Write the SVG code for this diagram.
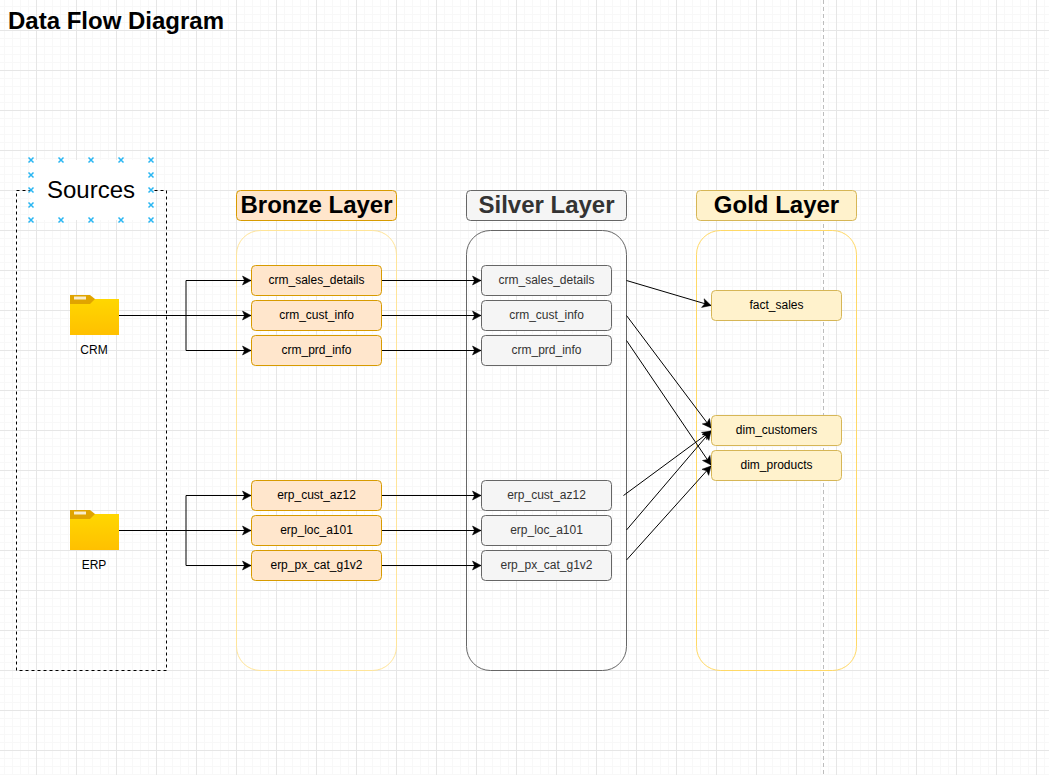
<svg xmlns="http://www.w3.org/2000/svg" width="1049" height="775" viewBox="0 0 1049 775">
<style>
text{font-family:"Liberation Sans",Arial,sans-serif;text-anchor:middle;fill:#000}
.n{font-size:12px}
.t{font-size:24px;font-weight:bold}
.nb{fill:#ffe6cc;stroke:#d79b00}
.ns{fill:#f5f5f5;stroke:#666}
.ng{fill:#fff2cc;stroke:#d6b656}
.c{fill:none;stroke:#000;stroke-width:1;marker-end:url(#a)}
.x{fill:none;stroke:#29b6f2;stroke-width:1.5}
</style>
<defs>
<pattern id="g" patternUnits="userSpaceOnUse" x="-4" y="-10" width="40" height="40">
<path d="M8.5 0V40M16.5 0V40M24.5 0V40M32.5 0V40M0 8.5H40M0 16.5H40M0 24.5H40M0 32.5H40" stroke="#f8f8f8" fill="none"/>
<path d="M0.5 0V40M0 0.5H40" stroke="#e6e6e6" stroke-width="1" fill="none"/>
</pattern>
<linearGradient id="f" x1="0" y1="0" x2="0" y2="1"><stop offset="0" stop-color="#ffd700"/><stop offset="1" stop-color="#ffc000"/></linearGradient>
<marker id="a" markerUnits="userSpaceOnUse" markerWidth="12" markerHeight="12" refX="9.5" refY="6" orient="auto"><path d="M1 1.5L9.5 6L1 10.5L3 6Z" fill="#000" stroke="#000" stroke-width=".5"/></marker>
<symbol id="folder" overflow="visible"><path d="M0 4H49V40H0Z" fill="url(#f)"/><path d="M0 0H20L25 4L20 9H0Z" fill="#e0a400"/><rect x="4" y="1.5" width="12" height="3" fill="#fff" fill-opacity=".8"/></symbol>
<path id="xm" d="M-2.5 -2.5L2.5 2.5M-2.5 2.5L2.5 -2.5"/>
</defs>
<rect width="1049" height="775" fill="#fff"/>
<rect width="1049" height="775" fill="url(#g)"/>
<path d="M823.5 0V775" stroke="#bdbdbd" stroke-dasharray="4 3" fill="none"/>
<text x="116" y="29" class="t">Data Flow Diagram</text>

<g id="sources">
<rect x="16.5" y="190.5" width="150" height="480" fill="none" stroke="#000" stroke-dasharray="3 3"/>
<rect x="31" y="160" width="120" height="60" fill="#fff"/>
<g class="x">
<use href="#xm" x="31" y="160"/><use href="#xm" x="61" y="160"/><use href="#xm" x="91" y="160"/><use href="#xm" x="121" y="160"/><use href="#xm" x="151" y="160"/>
<use href="#xm" x="31" y="175"/><use href="#xm" x="151" y="175"/>
<use href="#xm" x="31" y="190"/><use href="#xm" x="151" y="190"/>
<use href="#xm" x="31" y="205"/><use href="#xm" x="151" y="205"/>
<use href="#xm" x="31" y="220"/><use href="#xm" x="61" y="220"/><use href="#xm" x="91" y="220"/><use href="#xm" x="121" y="220"/><use href="#xm" x="151" y="220"/>
</g>
<text x="91" y="198" font-size="24">Sources</text>
</g>

<g id="layer-bronze"><rect x="236.5" y="230.5" width="160" height="440" rx="24" fill="none" stroke="#ffe599"/><rect x="236.5" y="190.5" width="160" height="30" rx="4" class="nb"/><text x="316.5" y="213" class="t">Bronze Layer</text></g>
<g id="layer-silver"><rect x="466.5" y="230.5" width="160" height="440" rx="24" fill="none" stroke="#666"/><rect x="466.5" y="190.5" width="160" height="30" rx="4" class="ns"/><text x="546.5" y="213" class="t" style="fill:#333">Silver Layer</text></g>
<g id="layer-gold"><rect x="696.5" y="230.5" width="160" height="440" rx="24" fill="none" stroke="#ffd966"/><rect x="696.5" y="190.5" width="160" height="30" rx="4" class="ng"/><text x="776.5" y="213" class="t">Gold Layer</text></g>

<g id="connectors">
<path class="c" d="M119 315.5H251"/>
<path class="c" d="M186 315.5V280.5H251"/>
<path class="c" d="M186 315.5V350.5H251"/>
<path class="c" d="M119 530.5H251"/>
<path class="c" d="M186 530.5V495.5H251"/>
<path class="c" d="M186 530.5V565.5H251"/>
<path class="c" d="M382 280.5H481"/>
<path class="c" d="M382 315.5H481"/>
<path class="c" d="M382 350.5H481"/>
<path class="c" d="M382 495.5H481"/>
<path class="c" d="M382 530.5H481"/>
<path class="c" d="M382 565.5H481"/>
<path class="c" d="M626.5 280.5L711 305.5"/>
<path class="c" d="M626.5 315.5L711 428"/>
<path class="c" d="M626.5 340.5L711 465"/>
<path class="c" d="M623.5 495.5L711 431"/>
<path class="c" d="M626.5 530L711 431"/>
<path class="c" d="M626.5 560L711 466"/>
</g>

<g id="crm"><use href="#folder" x="70" y="295"/><text x="94" y="354" class="n">CRM</text></g>
<g id="erp"><use href="#folder" x="70" y="510"/><text x="94" y="569" class="n">ERP</text></g>

<g id="b1"><rect x="251.5" y="265.5" width="130" height="30" rx="4" class="nb"/><text x="316.5" y="284" class="n">crm_sales_details</text></g>
<g id="b2"><rect x="251.5" y="300.5" width="130" height="30" rx="4" class="nb"/><text x="316.5" y="319" class="n">crm_cust_info</text></g>
<g id="b3"><rect x="251.5" y="335.5" width="130" height="30" rx="4" class="nb"/><text x="316.5" y="354" class="n">crm_prd_info</text></g>
<g id="b4"><rect x="251.5" y="480.5" width="130" height="30" rx="4" class="nb"/><text x="316.5" y="499" class="n">erp_cust_az12</text></g>
<g id="b5"><rect x="251.5" y="515.5" width="130" height="30" rx="4" class="nb"/><text x="316.5" y="534" class="n">erp_loc_a101</text></g>
<g id="b6"><rect x="251.5" y="550.5" width="130" height="30" rx="4" class="nb"/><text x="316.5" y="569" class="n">erp_px_cat_g1v2</text></g>

<g id="s1"><rect x="481.5" y="265.5" width="130" height="30" rx="4" class="ns"/><text x="546.5" y="284" class="n" style="fill:#333">crm_sales_details</text></g>
<g id="s2"><rect x="481.5" y="300.5" width="130" height="30" rx="4" class="ns"/><text x="546.5" y="319" class="n" style="fill:#333">crm_cust_info</text></g>
<g id="s3"><rect x="481.5" y="335.5" width="130" height="30" rx="4" class="ns"/><text x="546.5" y="354" class="n" style="fill:#333">crm_prd_info</text></g>
<g id="s4"><rect x="481.5" y="480.5" width="130" height="30" rx="4" class="ns"/><text x="546.5" y="499" class="n" style="fill:#333">erp_cust_az12</text></g>
<g id="s5"><rect x="481.5" y="515.5" width="130" height="30" rx="4" class="ns"/><text x="546.5" y="534" class="n" style="fill:#333">erp_loc_a101</text></g>
<g id="s6"><rect x="481.5" y="550.5" width="130" height="30" rx="4" class="ns"/><text x="546.5" y="569" class="n" style="fill:#333">erp_px_cat_g1v2</text></g>

<g id="g1"><rect x="711.5" y="290.5" width="130" height="30" rx="4" class="ng"/><text x="776.5" y="309" class="n">fact_sales</text></g>
<g id="g2"><rect x="711.5" y="415.5" width="130" height="30" rx="4" class="ng"/><text x="776.5" y="434" class="n">dim_customers</text></g>
<g id="g3"><rect x="711.5" y="450.5" width="130" height="30" rx="4" class="ng"/><text x="776.5" y="469" class="n">dim_products</text></g>
</svg>
